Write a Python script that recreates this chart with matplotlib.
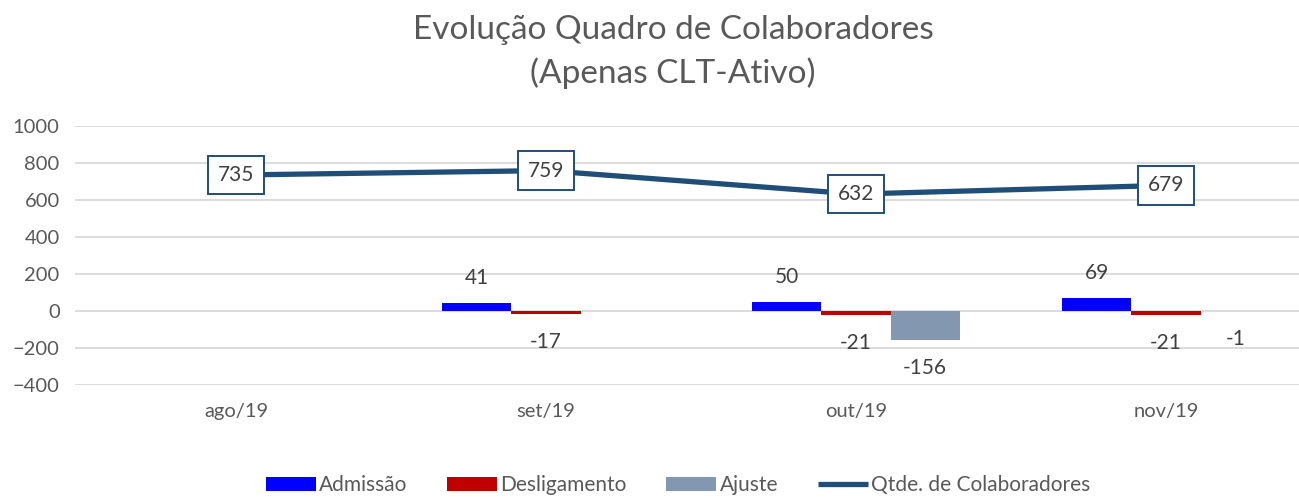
import numpy as np
import matplotlib.pyplot as plt

plt.rcParams['font.family'] = ['Lato', 'DejaVu Sans']

meses = ['ago/19', 'set/19', 'out/19', 'nov/19']
admissao = [0, 41, 50, 69]
desligamento = [0, -17, -21, -21]
ajuste = [0, 0, -156, -1]
colaboradores = [735, 759, 632, 679]

# labels shown only where Excel had a value
adm_show = [False, True, True, True]
desl_show = [False, True, True, True]
aju_show = [False, False, True, True]

cor_adm = '#0000FF'
cor_desl = '#C00000'
cor_aju = '#8497B0'
cor_linha = '#1F4E79'
cinza_txt = '#595959'

fig = plt.figure(figsize=(12.99, 4.97), dpi=100)
ax = fig.add_axes([75 / 1299, 112 / 497, 1 - 75 / 1299, (385 - 126) / 497])

x = np.arange(len(meses))
w = 0.223
b1 = ax.bar(x - w, admissao, w, color=cor_adm, label='Admissão', zorder=2)
b2 = ax.bar(x, desligamento, w, color=cor_desl, label='Desligamento', zorder=2)
b3 = ax.bar(x + w, ajuste, w, color=cor_aju, label='Ajuste', zorder=2)
ln, = ax.plot(x, colaboradores, color=cor_linha, lw=3.8, label='Qtde. de Colaboradores',
              zorder=3, solid_capstyle='butt')

# data labels
for i in range(len(meses)):
    if adm_show[i]:
        ax.annotate(str(admissao[i]), (x[i] - w, admissao[i]), xytext=(0, 18),
                    textcoords='offset points', ha='center', va='center',
                    fontsize=15, color='#404040')
    if desl_show[i]:
        ax.annotate(str(desligamento[i]), (x[i], desligamento[i]), xytext=(0, -20),
                    textcoords='offset points', ha='center', va='center',
                    fontsize=15, color='#404040')
    if aju_show[i]:
        ax.annotate(str(ajuste[i]), (x[i] + w, ajuste[i]), xytext=(0, -20),
                    textcoords='offset points', ha='center', va='center',
                    fontsize=15, color='#404040')
    ax.annotate(str(colaboradores[i]), (x[i], colaboradores[i]), xytext=(0, 0),
                textcoords='offset points', ha='center', va='center',
                fontsize=15, color='#404040', zorder=5,
                bbox=dict(boxstyle='square,pad=0.45', fc='white', ec=cor_linha, lw=1.4))

ax.set_ylim(-400, 1000)
ax.set_yticks(np.arange(-400, 1001, 200))
ax.set_xlim((75 - 236) / 310, (1299 - 236) / 310)
ax.set_xticks(x)
ax.set_xticklabels(meses)
ax.tick_params(length=0, labelsize=14.5, labelcolor=cinza_txt)
ax.tick_params(axis='x', pad=13)
ax.tick_params(axis='y', pad=11)
ax.grid(axis='y', color='#D9D9D9', lw=1.3, zorder=0)
ax.set_axisbelow(True)
for s in ax.spines.values():
    s.set_visible(False)

fig.text(0.518, 0.94, 'Evolução Quadro de Colaboradores', ha='center', va='center',
         fontsize=24, color=cinza_txt)
fig.text(0.518, 0.853, '(Apenas CLT-Ativo)', ha='center', va='center',
         fontsize=24, color=cinza_txt)

fig.legend([b1, b2, b3, ln], ['Admissão', 'Desligamento', 'Ajuste', 'Qtde. de Colaboradores'],
           loc='lower center', bbox_to_anchor=(0.522, -0.034), ncol=4, frameon=False,
           fontsize=15, labelcolor=cinza_txt, handlelength=2.4, handleheight=0.65,
           columnspacing=1.9, handletextpad=0.15)

fig.savefig('out.png', dpi=100)
